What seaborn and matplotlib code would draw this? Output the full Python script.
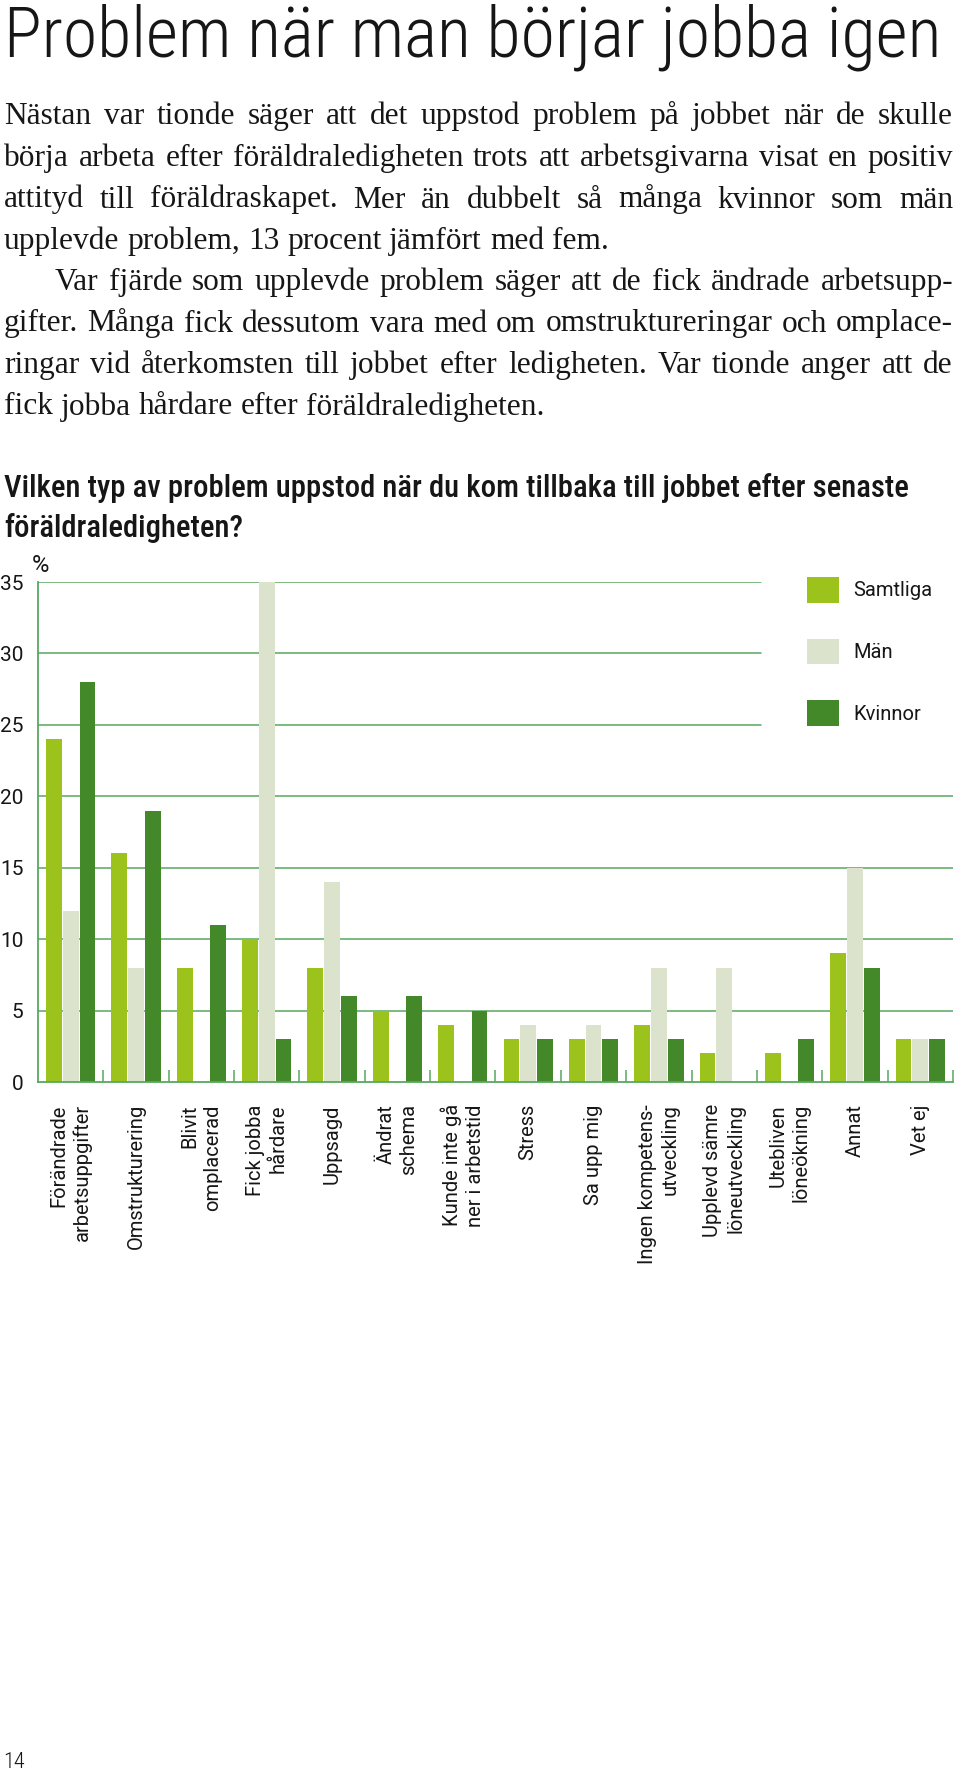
import matplotlib
matplotlib.use("Agg")
import matplotlib.pyplot as plt
from matplotlib import font_manager as fm
from matplotlib.ticker import FixedLocator
import seaborn as sns
import pandas as pd

# ---------------- data ----------------
categories = [
    "Förändrade\narbetsuppgifter",
    "Omstrukturering",
    "Blivit\nomplacerad",
    "Fick jobba\nhårdare",
    "Uppsagd",
    "Ändrat\nschema",
    "Kunde inte gå\nner i arbetstid",
    "Stress",
    "Sa upp mig",
    "Ingen kompetens-\nutveckling",
    "Upplevd sämre\nlöneutveckling",
    "Utebliven\nlöneökning",
    "Annat",
    "Vet ej",
]
samtliga = [24, 16, 8, 10, 8, 5, 4, 3, 3, 4, 2, 2, 9, 3]
man = [12, 8, 0, 35, 14, 0, 0, 4, 4, 8, 8, 0, 15, 3]
kvinnor = [28, 19, 11, 3, 6, 6, 5, 3, 3, 3, 0, 3, 8, 3]
series_names = ["Samtliga", "Män", "Kvinnor"]
series_colors = ["#9BC31B", "#DCE3CC", "#43892A"]
yticks = [0, 5, 10, 15, 20, 25, 30, 35]
ylabel_unit = "%"
page_number = "14"

title = "Problem när man börjar jobba igen"
body_lines = [
    "Nästan var tionde säger att det uppstod problem på jobbet när de skulle",
    "börja arbeta efter föräldraledigheten trots att arbetsgivarna visat en positiv",
    "attityd till föräldraskapet. Mer än dubbelt så många kvinnor som män",
    "upplevde problem, 13 procent jämfört med fem.",
    "Var fjärde som upplevde problem säger att de fick ändrade arbetsupp-",
    "gifter. Många fick dessutom vara med om omstruktureringar och omplace-",
    "ringar vid återkomsten till jobbet efter ledigheten. Var tionde anger att de",
    "fick jobba hårdare efter föräldraledigheten.",
]
body_justified = [True, True, True, False, True, True, True, False]
body_indent = [False, False, False, False, True, False, False, False]
subtitle_lines = [
    "Vilken typ av problem uppstod när du kom tillbaka till jobbet efter senaste",
    "föräldraledigheten?",
]

# ---------------- fonts ----------------
sns.set_theme(style="white")
plt.rcParams["font.family"] = ["Roboto", "DejaVu Sans"]

ttf = fm.fontManager.ttflist
avail = {f.name for f in ttf}


def pick(cands):
    for c in cands:
        if c in avail:
            return c
    return None


narrow = pick(["Roboto Condensed", "Liberation Sans Narrow", "Open Sans Condensed",
               "Noto Sans Condensed"])
dejavu_cond = any(f.name == "DejaVu Sans" and str(f.stretch) in ("condensed", "semi-condensed")
                  for f in ttf)
if narrow:
    title_fp = fm.FontProperties(family=narrow, weight="light")
    sub_fp = fm.FontProperties(family=narrow, weight="medium")
elif dejavu_cond:
    title_fp = fm.FontProperties(family="DejaVu Sans", stretch="condensed")
    sub_fp = fm.FontProperties(family="DejaVu Sans", stretch="condensed", weight="bold")
else:
    title_fp = fm.FontProperties(family="Roboto", weight="light")
    sub_fp = fm.FontProperties(family="Roboto", weight="medium")
serif_name = pick(["Liberation Serif", "DejaVu Serif"])
body_fp = fm.FontProperties(family=serif_name)
sans_fp = fm.FontProperties(family="Roboto")

W, H = 960, 1772
fig = plt.figure(figsize=(W / 100, H / 100), dpi=100)
fig.patch.set_facecolor("white")
renderer = fig.canvas.get_renderer()
TXT = "#161616"
GRID = "#58A85E"


def fxy(x, y):
    return x / W, 1 - y / H


def wpx(t):
    return t.get_window_extent(renderer).width


def fitted_text(s, x, y, fp, size, target_w, **kw):
    t = fig.text(*fxy(x, y), s, fontproperties=fp, fontsize=size, va="baseline",
                 ha="left", color=TXT, **kw)
    w = wpx(t)
    if target_w:
        size = size * target_w / w
        t.set_fontsize(size)
    return t, size


# ---------------- title ----------------
_, tsize = fitted_text(title, 4, 56.5, title_fp, 48, 937)

# ---------------- body (justified) ----------------
X0, X1 = 4, 953
INDENT = 51
body_baselines = [124, 166, 207.5, 249, 290, 331.5, 373, 414.5]


def measure_words(words, size):
    out = []
    for w_ in words:
        t = fig.text(0, 0, w_, fontproperties=body_fp, fontsize=size)
        out.append(wpx(t))
        t.remove()
    return out


def space_w(size):
    a = fig.text(0, 0, "x x", fontproperties=body_fp, fontsize=size)
    b = fig.text(0, 0, "xx", fontproperties=body_fp, fontsize=size)
    s = wpx(a) - wpx(b)
    a.remove(); b.remove()
    return s


bsize = 21.0
sp = space_w(bsize)
ratio = 0
for line, just, ind in zip(body_lines, body_justified, body_indent):
    if not just:
        continue
    words = line.split(" ")
    nat = sum(measure_words(words, bsize)) + sp * (len(words) - 1)
    avail_w = X1 - X0 - (INDENT if ind else 0)
    ratio = max(ratio, nat / avail_w)
bsize = bsize * 0.985 / ratio
sp = space_w(bsize)

for line, just, ind, yb in zip(body_lines, body_justified, body_indent, body_baselines):
    words = line.split(" ")
    ws = measure_words(words, bsize)
    x = X0 + (INDENT if ind else 0)
    gap = (X1 - x - sum(ws)) / (len(words) - 1) if (just and len(words) > 1) else sp
    for w_, ww in zip(words, ws):
        fig.text(*fxy(x, yb), w_, fontproperties=body_fp, fontsize=bsize,
                 va="baseline", ha="left", color=TXT)
        x += ww + gap

# ---------------- subtitle ----------------
_, ssize = fitted_text(subtitle_lines[0], 4, 497, sub_fp, 20, 907)
fitted_text(subtitle_lines[1], 4, 537, sub_fp, ssize, None)

# ---------------- chart ----------------
ax = fig.add_axes([38 / W, 1 - 1082 / H, 915 / W, 500 / H])
df = pd.DataFrame({
    "kategori": categories * 3,
    "grupp": [series_names[0]] * len(categories) + [series_names[1]] * len(categories)
             + [series_names[2]] * len(categories),
    "procent": samtliga + man + kvinnor,
})
sns.barplot(data=df, x="kategori", y="procent", hue="grupp", order=categories,
            hue_order=series_names, palette=series_colors, saturation=1,
            width=0.77, gap=0.06, errorbar=None, linewidth=0, ax=ax, zorder=3)
ax.set_xlim(-0.5, len(categories) - 0.5)
ax.set_ylim(0, 35)
ax.set_xlabel("")
ax.set_ylabel("")
ax.set_facecolor("white")

for v in yticks[1:]:
    ax.axhline(v, xmin=0, xmax=(0.79 if v >= 25 else 1.0), color=GRID, lw=1.1, zorder=1)

for side in ("top", "right"):
    ax.spines[side].set_visible(False)
for side in ("left", "bottom"):
    ax.spines[side].set_color(GRID)
    ax.spines[side].set_linewidth(1.3)
    ax.spines[side].set_zorder(4)

ax.set_yticks(yticks)
ax.set_yticklabels([str(v) for v in yticks])
ax.tick_params(axis="y", length=0, pad=10.5, labelsize=15, labelcolor=TXT)

ax.set_xticks(range(len(categories)))
ax.set_xticklabels(categories, rotation=90, ha="center", va="top",
                   multialignment="right", linespacing=1.25)
ax.tick_params(axis="x", which="major", length=0, pad=16, labelsize=14.5, labelcolor=TXT)
ax.xaxis.set_minor_locator(FixedLocator([i + 0.5 for i in range(len(categories))]))
ax.tick_params(axis="x", which="minor", direction="in", length=8.5, width=1.1,
               color=GRID, bottom=True)
for lab in ax.get_xticklabels():
    lab.set_fontproperties(sans_fp)
    lab.set_fontsize(14.5)
for lab in ax.get_yticklabels():
    lab.set_fontproperties(sans_fp)
    lab.set_fontsize(15)

fig.text(*fxy(40, 565), ylabel_unit, ha="center", va="center",
         fontsize=17, color=TXT, fontproperties=sans_fp)

fs_leg = 14.5
fs_px = fs_leg * 100 / 72
sns.move_legend(ax, "upper left", bbox_to_anchor=fxy(807, 577), bbox_transform=fig.transFigure,
                frameon=False, title=None, fontsize=fs_leg, handlelength=32 / fs_px,
                handleheight=32 / fs_px, labelspacing=(61.5 - 32 + 6.5) / fs_px,
                handletextpad=14 / fs_px, borderpad=0, borderaxespad=0)
for t in ax.get_legend().get_texts():
    t.set_fontproperties(sans_fp)
    t.set_fontsize(fs_leg)
    t.set_color(TXT)

# ---------------- page number ----------------
fig.text(*fxy(3, 1768), page_number, fontproperties=title_fp, fontsize=16, va="baseline",
         ha="left", color=TXT)

fig.savefig("out.png", dpi=100, facecolor="white")
